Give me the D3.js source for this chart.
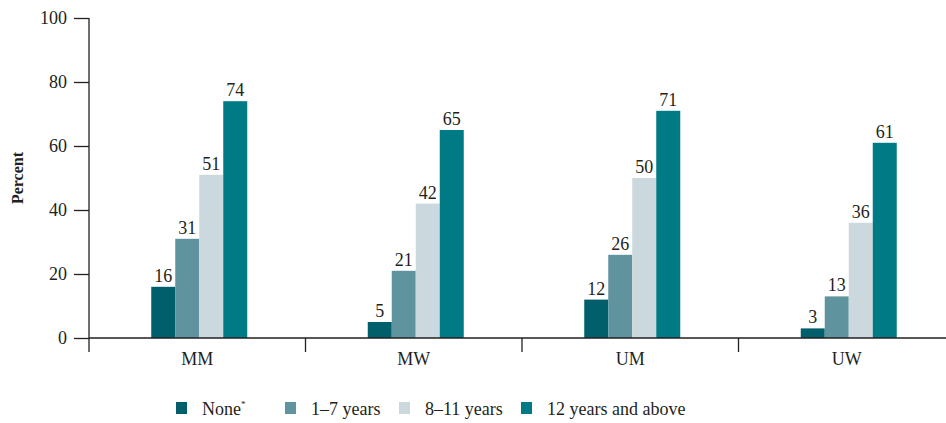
<!DOCTYPE html>
<html><head><meta charset="utf-8">
<script src="https://cdn.jsdelivr.net/npm/d3@7/dist/d3.min.js"></script>
<style>body{margin:0;background:#fff}svg{display:block}</style>
</head><body><svg id="c" width="946" height="423" font-family="Liberation Serif"></svg>
<script>
const categories = ["MM","MW","UM","UW"];
const seriesNames = ["None","1–7 years","8–11 years","12 years and above"];
const none = [16,5,12,3];
const y1to7 = [31,21,26,13];
const y8to11 = [51,42,50,36];
const y12plus = [74,65,71,61];
const yTicks = [0,20,40,60,80,100];
const colors = ["#005f6b","#5f949f","#cbd9de","#007a85"];

const INK = "#231f20";
const series = [none,y1to7,y8to11,y12plus];
const svg = d3.select("#c");
const x0 = d3.scaleBand().domain(categories).range([89,955]);
const x1 = d3.scaleBand().domain(d3.range(4)).range([0,96]);
const y = d3.scaleLinear().domain([0,100]).range([338,18]);

function label(x, yy, txt, size){
  return svg.append("text").attr("x",x).attr("y",yy).attr("font-size",size)
    .attr("font-family","Liberation Serif").attr("fill",INK).text(txt);
}

// bars
categories.forEach((c,ci)=>{
  const gx = x0(c) + x0.bandwidth()/2 - 48 + 2;
  series.forEach((s,si)=>{
    svg.append("rect").attr("x",gx+x1(si)).attr("y",y(s[ci])).attr("width",x1.bandwidth()).attr("height",y(0)-y(s[ci])).attr("fill",colors[si]);
    label(gx+x1(si)+x1.bandwidth()/2, y(s[ci])-5, s[ci], 18).attr("text-anchor","middle");
  });
});

// y axis ticks (scale-driven)
const ya = svg.append("g").attr("transform","translate(89,0)").call(d3.axisLeft(y).tickValues(yTicks).tickSize(15).tickFormat(""));
ya.select(".domain").remove();
ya.selectAll("line").attr("stroke",INK).attr("stroke-width",1.3);
yTicks.forEach(t=>{
  label(67, y(t)+6, t, 18).attr("text-anchor","end");
});
svg.append("line").attr("x1",89).attr("x2",89).attr("y1",y(100)).attr("y2",352).attr("stroke",INK).attr("stroke-width",1.3);

// x axis
svg.append("line").attr("x1",89).attr("x2",946).attr("y1",y(0)).attr("y2",y(0)).attr("stroke",INK).attr("stroke-width",1.3);
categories.slice(1).forEach(c=>{
  svg.append("line").attr("x1",x0(c)).attr("x2",x0(c)).attr("y1",y(0)).attr("y2",352).attr("stroke",INK).attr("stroke-width",1.3);
});
categories.forEach(c=>{
  label(x0(c)+x0.bandwidth()/2, 365, c, 18).attr("text-anchor","middle");
});

// y title
label(0,0,"Percent",16).attr("transform","translate(23,"+((y(0)+y(100))/2)+") rotate(-90)").attr("text-anchor","middle").attr("font-weight","bold");

// legend
const legX = [176,285,399,521];
seriesNames.forEach((n,i)=>{
  svg.append("rect").attr("x",legX[i]).attr("y",402).attr("width",11).attr("height",12).attr("fill",colors[i]);
  const t = label(legX[i]+26, 415, n, 18);
  if(i===0) t.append("tspan").attr("font-size",9).attr("dy",-8).text("*");
});
</script></body></html>
